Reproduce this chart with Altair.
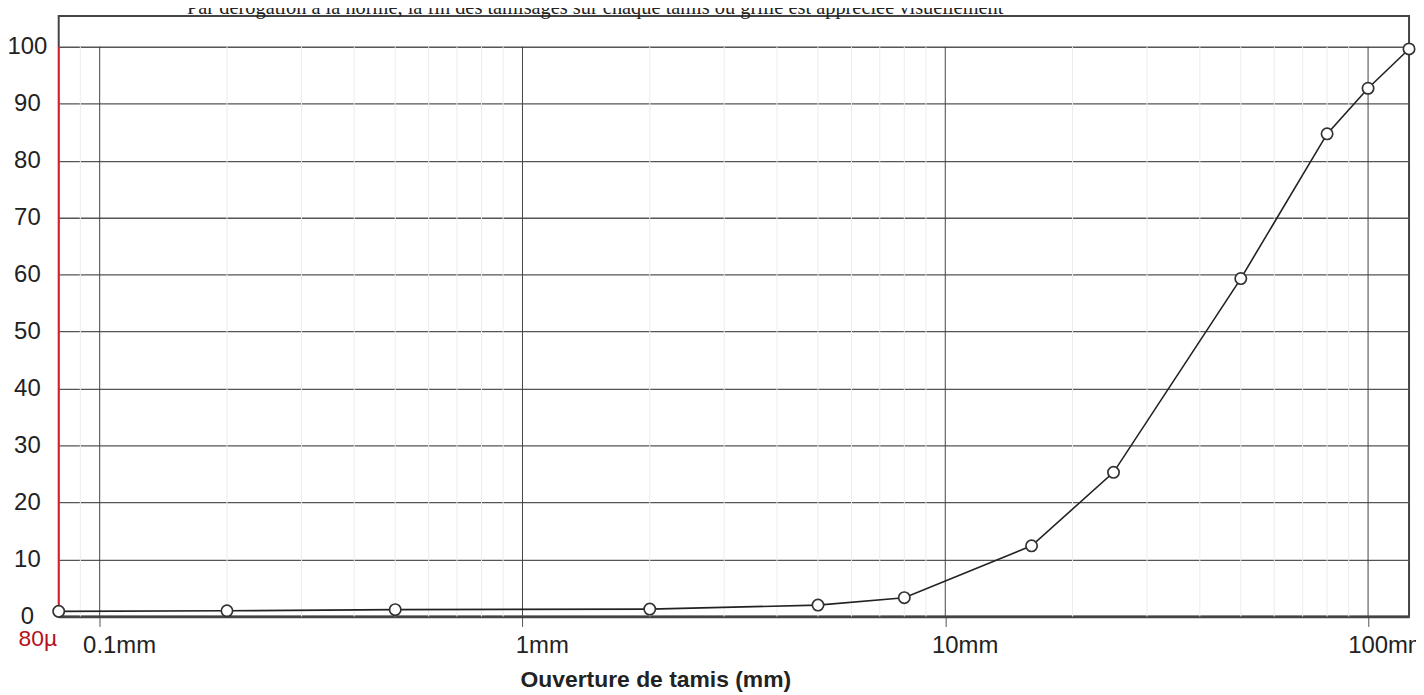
import altair as alt
import pandas as pd

# Data
sieve_mm = [0.08, 0.2, 0.5, 2, 5, 8, 16, 25, 50, 80, 100, 125]
passing_pct = [0.9, 1.0, 1.2, 1.3, 2.0, 3.3, 12.4, 25.3, 59.3, 84.7, 92.7, 99.6]

major_ticks = [0.1, 1, 10, 100]
major_labels = ["0.1mm", "1mm", "10mm", "100mm"]
minor_ticks = [0.09, 0.2, 0.3, 0.4, 0.5, 0.6, 0.7, 0.8, 0.9,
               2, 3, 4, 5, 6, 7, 8, 9,
               20, 30, 40, 50, 60, 70, 80, 90]
y_ticks = [0, 10, 20, 30, 40, 50, 60, 70, 80, 90, 100]

top_note = ("Par dérogation à la norme, la fin des tamisages sur chaque tamis "
            "ou grille est appréciée visuellement")
x_title = "Ouverture de tamis (mm)"
red_label = "80µ"

df = pd.DataFrame({"x": sieve_mm, "y": passing_pct})
minor_df = pd.DataFrame({"x": minor_ticks, "y": [0] * len(minor_ticks), "y2": [100] * len(minor_ticks)})
major_df = pd.DataFrame({"x": major_ticks, "y": [0] * len(major_ticks), "y2": [100] * len(major_ticks),
                         "label": major_labels})
red_df = pd.DataFrame({"x": [0.08], "y": [0], "y2": [100], "label": [red_label]})
note_df = pd.DataFrame({"note": [top_note]})

xscale = alt.Scale(type="log", domain=[0.08, 125], nice=False)
yscale = alt.Scale(domain=[0, 105.4], nice=False, zero=True)

xaxis = alt.Axis(
    values=major_ticks, labels=False, grid=False,
    ticks=True, tickSize=10, tickColor="#555", tickWidth=1,
    domain=True, domainColor="#444", domainWidth=2.5,
    title=x_title, titleFont="Liberation Sans", titleFontSize=23,
    titleFontWeight="bold", titleColor="#222", titleX=600, titleY=70,
    titleBaseline="alphabetic", titleAlign="center",
)
yaxis = alt.Axis(
    values=y_ticks, grid=True, gridColor="#555", gridWidth=1.3,
    ticks=False, domain=False,
    labelFont="Liberation Sans", labelFontSize=24, labelColor="#222",
    labelAlign="center", labelPadding=32, labelBaseline="middle",
    labelFlush=False, labelOverlap=False, title=None,
)

X = alt.X("x:Q", scale=xscale, axis=xaxis)
Y = alt.Y("y:Q", scale=yscale, axis=yaxis)

minor = alt.Chart(minor_df).mark_rule(color="#ececec", strokeWidth=1).encode(x=X, y=Y, y2="y2:Q")
major = alt.Chart(major_df).mark_rule(color="#444", strokeWidth=1).encode(x=X, y=Y, y2="y2:Q")
major_text = alt.Chart(major_df).mark_text(
    color="#222", font="Liberation Sans", fontSize=24, align="center",
    baseline="alphabetic", dx=20, dy=37,
).encode(x=X, y=Y, text="label:N")
red = alt.Chart(red_df).mark_rule(color="#e8202a", strokeWidth=1.2).encode(x=X, y=Y, y2="y2:Q")
red_text = alt.Chart(red_df).mark_text(
    color="#b5121b", font="Liberation Sans", fontSize=23, align="center",
    baseline="alphabetic", dx=-21, dy=30,
).encode(x=X, y=Y, text="label:N")

note = alt.Chart(note_df).mark_text(
    color="#222", font="Liberation Serif", fontSize=20.5, align="left",
    baseline="alphabetic",
).encode(x=alt.value(129), y=alt.value(-2), text="note:N")

line = alt.Chart(df).mark_line(color="#222", strokeWidth=1.6).encode(x=X, y=Y)
pts = alt.Chart(df).mark_point(
    shape="circle", size=130, filled=True, fill="white", stroke="#333",
    strokeWidth=1.7, opacity=1,
).encode(x=X, y=Y)

chart = alt.layer(minor, major, red, line, pts, major_text, red_text, note).properties(
    width=1358, height=604,
    autosize=alt.AutoSizeParams(type="none"),
    padding={"left": 51, "top": 6, "right": 7, "bottom": 77},
).configure_view(stroke="#444", strokeWidth=2)

chart.save("out.html", embed_options={"renderer": "svg", "actions": False})
